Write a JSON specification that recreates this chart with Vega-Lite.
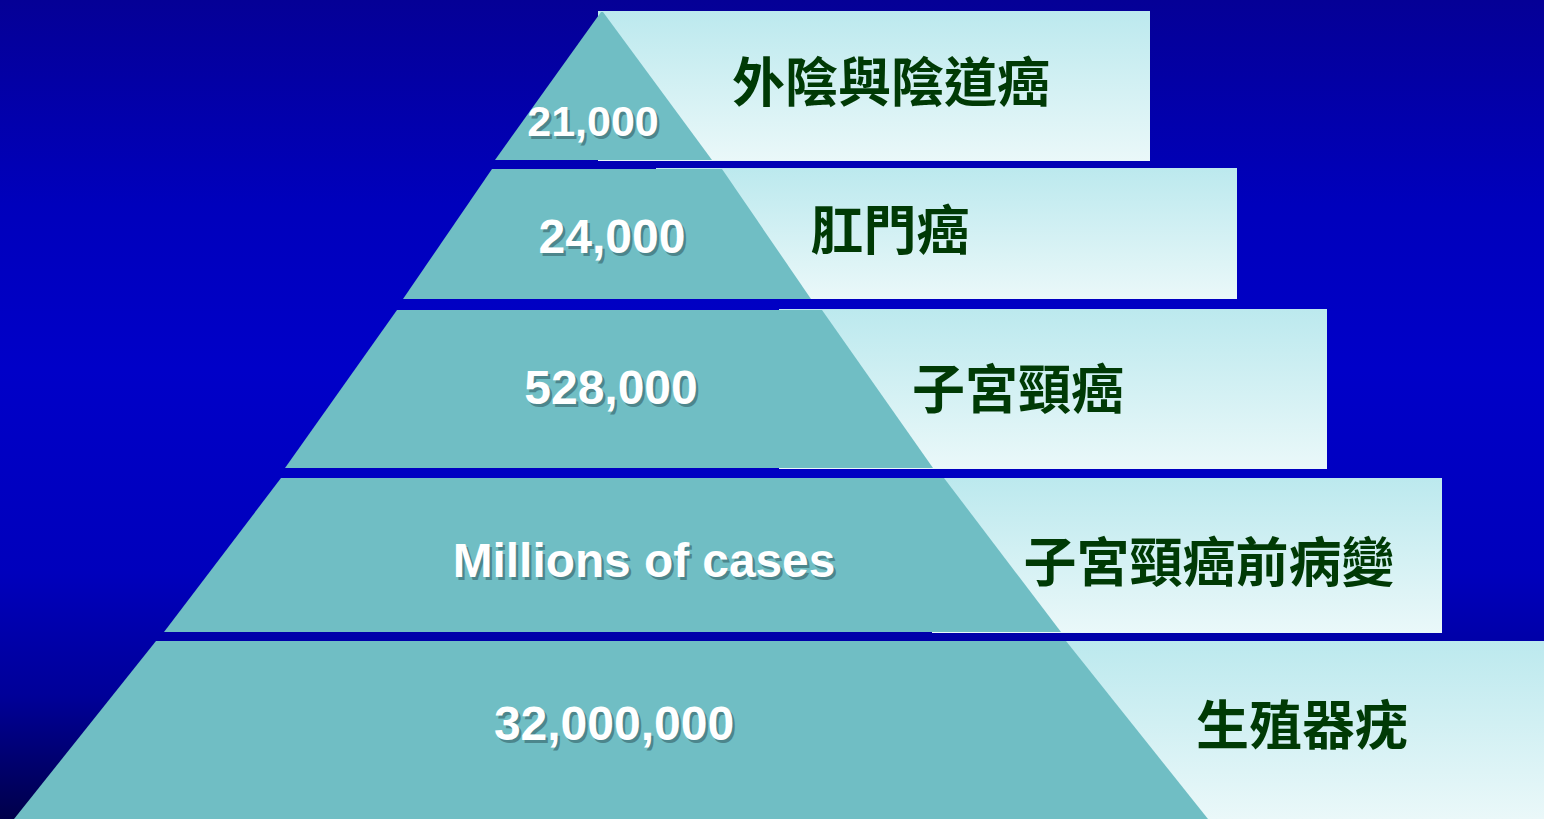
{
  "$schema": "https://vega.github.io/schema/vega-lite/v6.json",
  "width": 1544,
  "height": 819,
  "autosize": {"type": "none"},
  "padding": 0,
  "background": "#0000c0",
  "config": {"view": {"stroke": null}},
  "datasets": {
    "bg": [{"x0": 0, "x1": 1544, "y0": 0, "y1": 819}],
    "boxes": [
      {"tier": 1, "x0": 598, "x1": 1150, "y0": 11, "y1": 161, "label": "外陰與陰道癌", "lx": 891, "ly": 86},
      {"tier": 2, "x0": 656, "x1": 1237, "y0": 168, "y1": 299, "label": "肛門癌", "lx": 890, "ly": 234},
      {"tier": 3, "x0": 779, "x1": 1327, "y0": 309, "y1": 469, "label": "子宮頸癌", "lx": 1018, "ly": 393},
      {"tier": 4, "x0": 932, "x1": 1442, "y0": 478, "y1": 633, "label": "子宮頸癌前病變", "lx": 1209, "ly": 566},
      {"tier": 5, "x0": 1066, "x1": 1544, "y0": 641, "y1": 819, "label": "生殖器疣", "lx": 1302, "ly": 729}
    ],
    "trap": [
      {"tier": 1, "y": 12, "xl": 601, "xr": 603},
      {"tier": 1, "y": 160, "xl": 495, "xr": 712},
      {"tier": 2, "y": 169, "xl": 492, "xr": 722},
      {"tier": 2, "y": 299, "xl": 403, "xr": 811},
      {"tier": 3, "y": 310, "xl": 397, "xr": 822},
      {"tier": 3, "y": 468, "xl": 285, "xr": 933},
      {"tier": 4, "y": 478, "xl": 281, "xr": 944},
      {"tier": 4, "y": 632, "xl": 164, "xr": 1061},
      {"tier": 5, "y": 641, "xl": 156, "xr": 1066},
      {"tier": 5, "y": 819, "xl": 14, "xr": 1208}
    ],
    "nums": [
      {"tier": 1, "text": "21,000", "nx": 593, "ny": 123, "size": 43},
      {"tier": 2, "text": "24,000", "nx": 612, "ny": 239, "size": 48},
      {"tier": 3, "text": "528,000", "nx": 611, "ny": 390, "size": 48},
      {"tier": 4, "text": "Millions of cases", "nx": 644, "ny": 563, "size": 47.8},
      {"tier": 5, "text": "32,000,000", "nx": 614, "ny": 726, "size": 48}
    ]
  },
  "layer": [
    {
      "data": {"name": "bg"},
      "mark": {
        "type": "rect",
        "color": {
          "gradient": "linear", "x1": 0, "y1": 0, "x2": 0, "y2": 1,
          "stops": [
            {"offset": 0, "color": "#050096"},
            {"offset": 0.25, "color": "#0000bc"},
            {"offset": 0.45, "color": "#0000c8"},
            {"offset": 0.7, "color": "#0000bc"},
            {"offset": 0.85, "color": "#000098"},
            {"offset": 1, "color": "#00004a"}
          ]
        }
      },
      "encoding": {
        "x": {"field": "x0", "type": "quantitative", "scale": {"domain": [0, 1544], "nice": false, "zero": false}, "axis": null},
        "x2": {"field": "x1"},
        "y": {"field": "y0", "type": "quantitative", "scale": {"domain": [0, 819], "nice": false, "zero": false, "reverse": true}, "axis": null},
        "y2": {"field": "y1"}
      }
    },
    {
      "data": {"name": "boxes"},
      "mark": {
        "type": "rect",
        "color": {
          "gradient": "linear", "x1": 0, "y1": 0, "x2": 0, "y2": 1,
          "stops": [
            {"offset": 0, "color": "#bce9ee"},
            {"offset": 1, "color": "#eaf8f9"}
          ]
        }
      },
      "encoding": {
        "x": {"field": "x0", "type": "quantitative", "axis": null},
        "x2": {"field": "x1"},
        "y": {"field": "y0", "type": "quantitative", "axis": null},
        "y2": {"field": "y1"}
      }
    },
    {
      "data": {"name": "trap"},
      "mark": {"type": "area", "orient": "horizontal", "color": "#70bec4"},
      "encoding": {
        "y": {"field": "y", "type": "quantitative", "axis": null},
        "x": {"field": "xl", "type": "quantitative", "axis": null, "stack": null},
        "x2": {"field": "xr"},
        "detail": {"field": "tier", "type": "nominal"}
      }
    },
    {
      "data": {"name": "nums"},
      "mark": {"type": "text", "font": "Liberation Sans", "fontWeight": "bold", "color": "#2a4f56", "opacity": 0.5, "dx": 2.5, "dy": 2.5, "baseline": "middle", "align": "center"},
      "encoding": {
        "x": {"field": "nx", "type": "quantitative"},
        "y": {"field": "ny", "type": "quantitative"},
        "text": {"field": "text"},
        "size": {"field": "size", "type": "quantitative", "scale": null, "legend": null}
      }
    },
    {
      "data": {"name": "nums"},
      "mark": {"type": "text", "font": "Liberation Sans", "fontWeight": "bold", "color": "#ffffff", "baseline": "middle", "align": "center"},
      "encoding": {
        "x": {"field": "nx", "type": "quantitative"},
        "y": {"field": "ny", "type": "quantitative"},
        "text": {"field": "text"},
        "size": {"field": "size", "type": "quantitative", "scale": null, "legend": null}
      }
    },
    {
      "data": {"name": "boxes"},
      "mark": {"type": "text", "font": "Noto Sans CJK TC", "fontWeight": "bold", "fontSize": 53, "color": "#003a05", "baseline": "middle", "align": "center"},
      "encoding": {
        "x": {"field": "lx", "type": "quantitative"},
        "y": {"field": "ly", "type": "quantitative"},
        "text": {"field": "label"}
      }
    }
  ]
}
